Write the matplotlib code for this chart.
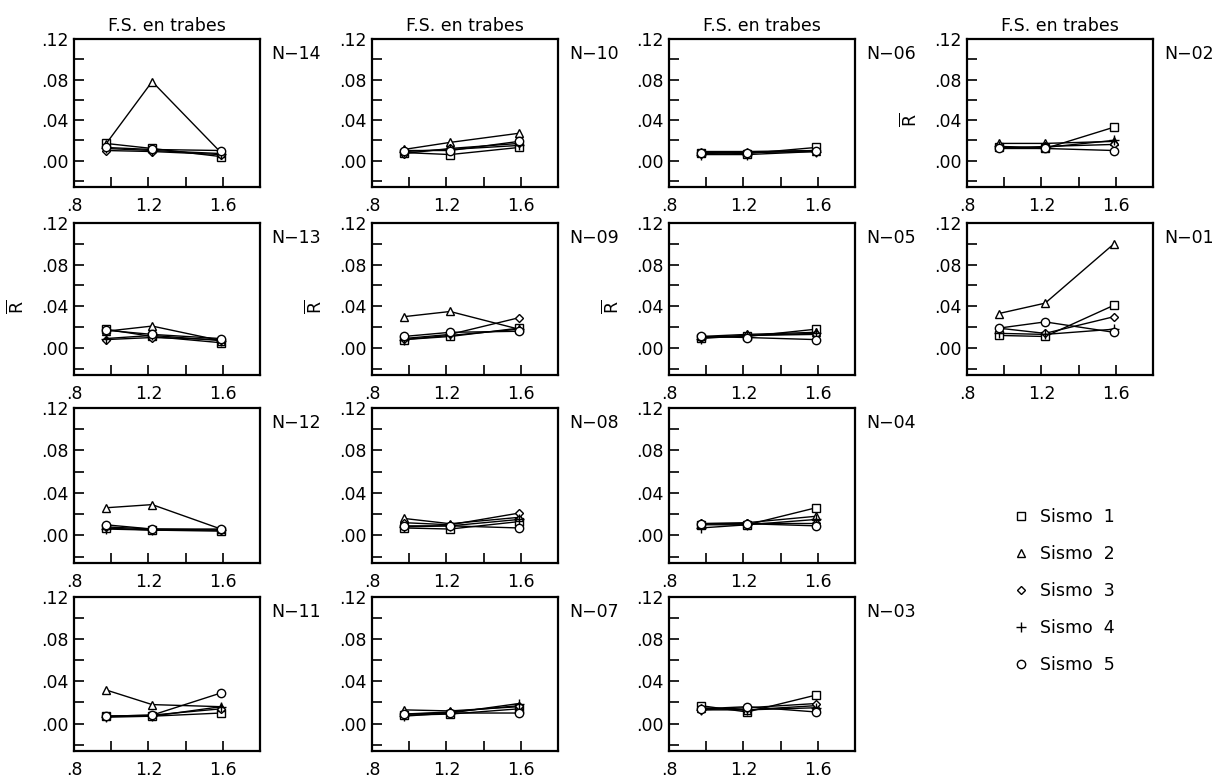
import matplotlib
matplotlib.use("Agg")
import matplotlib.pyplot as plt
from matplotlib.lines import Line2D

# F.S. en trabes (eje x) -- mismos tres valores en todos los paneles
fs = [0.97, 1.22, 1.59]

# R medio por nivel; una fila por sismo (1..5), una columna por F.S.
n14 = [[0.017, 0.012, 0.004], [0.016, 0.078, 0.008], [0.010, 0.009, 0.006],
       [0.012, 0.010, 0.007], [0.013, 0.011, 0.010]]
n13 = [[0.018, 0.011, 0.005], [0.016, 0.021, 0.007], [0.008, 0.010, 0.008],
       [0.009, 0.012, 0.007], [0.017, 0.013, 0.009]]
n12 = [[0.007, 0.005, 0.004], [0.026, 0.029, 0.006], [0.008, 0.006, 0.005],
       [0.006, 0.005, 0.005], [0.010, 0.006, 0.006]]
n11 = [[0.007, 0.007, 0.010], [0.032, 0.018, 0.016], [0.007, 0.008, 0.014],
       [0.006, 0.007, 0.016], [0.007, 0.008, 0.029]]
n10 = [[0.008, 0.006, 0.013], [0.011, 0.018, 0.027], [0.007, 0.012, 0.017],
       [0.009, 0.011, 0.015], [0.010, 0.010, 0.019]]
n09 = [[0.008, 0.011, 0.019], [0.030, 0.035, 0.018], [0.009, 0.013, 0.029],
       [0.008, 0.012, 0.018], [0.011, 0.015, 0.016]]
n08 = [[0.007, 0.006, 0.013], [0.016, 0.011, 0.017], [0.012, 0.010, 0.021],
       [0.008, 0.009, 0.015], [0.009, 0.009, 0.007]]
n07 = [[0.008, 0.009, 0.014], [0.013, 0.012, 0.016], [0.009, 0.011, 0.017],
       [0.007, 0.010, 0.019], [0.009, 0.010, 0.010]]
n06 = [[0.008, 0.007, 0.013], [0.009, 0.009, 0.010], [0.007, 0.008, 0.009],
       [0.006, 0.006, 0.009], [0.008, 0.008, 0.010]]
n05 = [[0.010, 0.011, 0.018], [0.011, 0.013, 0.015], [0.010, 0.012, 0.013],
       [0.009, 0.012, 0.014], [0.011, 0.010, 0.008]]
n04 = [[0.010, 0.010, 0.026], [0.011, 0.012, 0.018], [0.012, 0.012, 0.012],
       [0.007, 0.010, 0.015], [0.011, 0.011, 0.009]]
n03 = [[0.017, 0.011, 0.027], [0.015, 0.013, 0.017], [0.013, 0.015, 0.019],
       [0.013, 0.013, 0.015], [0.014, 0.016, 0.011]]
n02 = [[0.013, 0.012, 0.033], [0.017, 0.017, 0.019], [0.012, 0.014, 0.016],
       [0.014, 0.013, 0.020], [0.012, 0.012, 0.010]]
n01 = [[0.012, 0.011, 0.041], [0.033, 0.043, 0.100], [0.019, 0.014, 0.030],
       [0.014, 0.013, 0.018], [0.019, 0.025, 0.015]]

sismos = ["Sismo  1", "Sismo  2", "Sismo  3", "Sismo  4", "Sismo  5"]
x_ticks = [0.8, 1.2, 1.6]
x_labels = [".8", "1.2", "1.6"]
y_ticks = [0.0, 0.04, 0.08, 0.12]
y_labels = [".00", ".04", ".08", ".12"]

# (nombre, datos, fila, columna)
panels = [
    ("N−14", n14, 0, 0), ("N−13", n13, 1, 0), ("N−12", n12, 2, 0), ("N−11", n11, 3, 0),
    ("N−10", n10, 0, 1), ("N−09", n09, 1, 1), ("N−08", n08, 2, 1), ("N−07", n07, 3, 1),
    ("N−06", n06, 0, 2), ("N−05", n05, 1, 2), ("N−04", n04, 2, 2), ("N−03", n03, 3, 2),
    ("N−02", n02, 0, 3), ("N−01", n01, 1, 3),
]
with_rbar = {"N−13", "N−09", "N−05", "N−02"}

markers = ["s", "^", "D", "+", "o"]
msizes = [6, 5.5, 4.5, 7, 6]

W, H = 1219, 782
col_left = [74, 372, 669, 967]
row_span = [(39, 187), (223, 375), (408, 563), (597, 751)]
box_w = 186
fsz = 12.5

plt.rcParams["font.family"] = "DejaVu Sans"
fig = plt.figure(figsize=(W / 100, H / 100), dpi=100)

for name, vals, r, c in panels:
    top, bot = row_span[r]
    ax = fig.add_axes([col_left[c] / W, 1 - bot / H, box_w / W, (bot - top) / H])
    for k, serie in enumerate(vals):
        ax.plot(fs, serie, color="black", lw=1.0, marker=markers[k], ms=msizes[k],
                mfc="white", mec="black", mew=1.0)
    ax.set_xlim(0.8, 1.8)
    ax.set_ylim(-0.026, 0.12)
    ax.set_xticks(x_ticks, x_labels)
    ax.set_xticks([1.0, 1.4], minor=True)
    ax.set_yticks(y_ticks, y_labels)
    ax.set_yticks([-0.02, 0.02, 0.06, 0.10], minor=True)
    ax.tick_params(which="both", direction="in", length=7, width=1.2,
                   top=False, right=False, labelsize=fsz)
    ax.tick_params(axis="x", pad=7)
    ax.tick_params(axis="y", pad=4)
    for sp in ax.spines.values():
        sp.set_linewidth(1.6)
    ax.text(1.06, 0.9, name, transform=ax.transAxes, fontsize=fsz,
            ha="left", va="center")
    if r == 0:
        ax.set_title("F.S. en trabes", fontsize=fsz, pad=6)
    if name in with_rbar:
        ax.text(-0.31, 0.45, r"$\overline{\mathrm{R}}$", transform=ax.transAxes,
                rotation=90, fontsize=fsz, ha="center", va="center")

handles = [Line2D([], [], ls="none", marker=m, ms=s, color="black", mfc="white", mew=1.0)
           for m, s in zip(markers, msizes)]
fig.legend(handles, sismos, loc="upper left", bbox_to_anchor=(1014 / W, 1 - 508 / H),
           frameon=False, fontsize=fsz, handlelength=0.8, handletextpad=0.7,
           labelspacing=1.1, borderpad=0, borderaxespad=0)

fig.savefig("out.png", dpi=100)
